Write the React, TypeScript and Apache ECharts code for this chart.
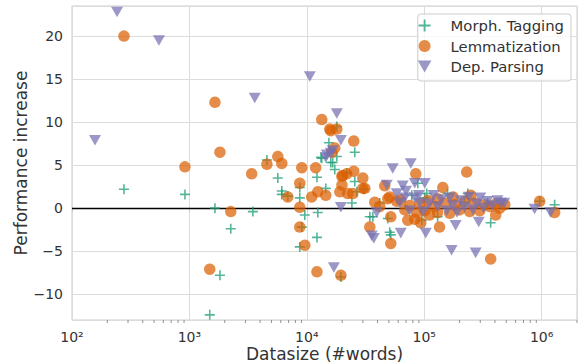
import React, { useEffect, useRef } from "react";
import * as echarts from "echarts";

// [datasize (#words), performance increase]
const morphTagging: [number, number][] = [
  [277, 2.2], [916, 1.6], [1650, 0.0], [2250, -2.4], [3470, -0.4], [1490, -12.4],
  [1820, -7.8], [6120, 2.0], [4570, 5.6], [5660, 3.5], [12200, 3.6], [15400, 7.6],
  [18000, 6.0], [25600, 3.1], [13400, 5.8], [16600, 5.3], [17300, 4.5], [8710, 2.4],
  [6890, 1.4], [8710, 1.2], [9610, -0.8], [12400, -0.5], [12200, -3.4], [8710, -4.5],
  [9060, -2.2], [14500, 2.3], [19500, -8.0], [24200, 0.6], [30600, 2.2], [36500, -1.0],
  [48900, -1.2], [51900, -3.1], [368000, -1.7], [1290000, 0.4], [101000, 1.2],
  [130000, -1.0], [235000, 1.7], [961000, 0.8], [18000, 9.5], [25600, 6.5], [16000, 5.3],
  [13200, 5.9], [21900, 4.1], [26700, 1.9], [34400, -1.0], [50800, -2.8], [41800, 0.6],
  [88100, 2.9], [95300, -1.4], [78300, 1.5], [105000, 1.7], [158000, 1.7], [221000, 0.7],
  [347000, 0.6], [6120, 1.6],
];

const lemmatization: [number, number][] = [
  [277, 20.0], [1650, 12.3], [916, 4.8], [1820, 6.5], [1490, -7.1], [2250, -0.4],
  [3390, 4.0], [4570, 5.1], [5660, 6.0], [6120, 5.2], [13400, 10.3], [15700, 9.2],
  [18000, 9.2], [16000, 9.0], [25100, 4.3], [17300, 7.0], [16300, 6.5], [9060, 4.7],
  [11900, 4.7], [8710, 2.9], [19900, 3.7], [21900, 4.0], [6890, 1.3], [11000, 1.3],
  [12400, 1.9], [14500, 1.5], [8710, 0.1], [8710, -2.2], [9610, -4.3], [12200, -7.4],
  [19900, 2.7], [19100, 1.9], [19500, -7.8], [24600, 1.7], [31200, 2.3], [37900, 0.7],
  [50800, 1.3], [51900, -1.0], [51900, -4.1], [68300, -0.2], [83000, -1.3], [93400, -1.7],
  [135000, -2.2], [144000, 2.4], [249000, 1.5], [368000, -5.9], [961000, 0.8],
  [1290000, -0.5], [25100, 7.8], [84700, 4.0], [230000, 4.2], [30000, 3.5], [406000, -0.8],
  [46100, 2.6], [72400, -1.4], [34400, -2.2], [20200, 3.8], [30000, 2.3], [22300, 1.7],
  [58300, 0.8], [63100, 1.0], [75300, 0.3], [86300, -0.5], [91600, 0.5], [101000, -0.3],
  [107000, 0.9], [111000, -0.8], [123000, 0.2], [130000, -0.5], [149000, 0.6],
  [165000, -0.6], [182000, 0.4], [200000, -0.2], [221000, 0.8], [244000, -0.4],
  [269000, 0.6], [297000, -0.3], [327000, 0.4], [361000, 0.2], [406000, 0.5],
  [439000, 0.0], [485000, 0.4], [48900, 1.1], [41800, 0.2], [176000, 1.3], [130000, 1.1],
];

const depParsing: [number, number][] = [
  [157, 7.9], [242, 22.8], [550, 19.5], [3600, 12.8], [10600, 15.3], [18000, 11.0],
  [19500, 7.9], [14800, 6.2], [16600, 6.7], [14500, 5.9], [16000, 6.4], [19500, 0.1],
  [17000, -6.9], [35700, -3.2], [37200, -3.5], [63100, -2.9], [53900, 4.6], [76800, 5.2],
  [47900, 2.7], [65600, 2.6], [83000, 2.9], [101000, 2.9], [103000, -2.9], [171000, -4.9],
  [274000, -5.2], [185000, -2.0], [291000, -1.6], [871000, -0.1], [1190000, -0.5],
  [39400, -0.5], [58300, 1.7], [68300, 1.2], [83000, 1.2], [91600, 0.6], [110000, 0.5],
  [120000, 1.5], [130000, 0.2], [140000, 1.0], [155000, -0.3], [165000, 1.2],
  [175000, 0.3], [190000, -0.5], [205000, 0.9], [220000, 0.1], [240000, 1.3],
  [260000, -0.2], [280000, 0.5], [300000, 1.2], [320000, 0.0], [345000, 0.8],
  [380000, 0.3], [420000, 0.9], [450000, 0.6], [480000, 0.6], [98000, -0.4],
  [90000, 1.5], [75000, -0.3], [70000, 2.0], [62000, 0.6],
];

const seriesNames = ["Morph. Tagging", "Lemmatization", "Dep. Parsing"];
const xMin = 100;
const xMax = 2000000;
const yMin = -13;
const yMax = 23.5;

const SUP: Record<string, string> = {
  "0": "⁰", "1": "¹", "2": "²", "3": "³", "4": "⁴", "5": "⁵", "6": "⁶", "7": "⁷", "8": "⁸", "9": "⁹",
};

const minorTicks: [number, number][] = [];
for (let k = 2; k <= 6; k++) {
  for (let m = 2; m <= 9; m++) {
    const v = m * Math.pow(10, k);
    if (v <= xMax) minorTicks.push([v, yMin]);
  }
}

const FONT = "DejaVu Sans";
const PLUS = "path://M42,0H58V42H100V58H58V100H42V58H0V42H42Z";
const DOWN_TRI = "path://M0,0L100,0L50,88Z";

export default function App() {
  const ref = useRef<HTMLDivElement>(null);
  useEffect(() => {
    if (!ref.current) return;
    const chart = echarts.init(ref.current, undefined, { renderer: "svg" });
    chart.setOption({
      animation: false,
      grid: {
        left: 72, right: 1, top: 6, bottom: 44,
        outerBoundsMode: "none",
        containLabel: false,
        show: true, borderColor: "#cccccc", borderWidth: 1, backgroundColor: "#fff",
      },
      legend: {
        data: seriesNames,
        orient: "vertical",
        right: 7,
        top: 14,
        itemWidth: 42,
        itemHeight: 12,
        itemGap: 5.5,
        padding: [4, 7, 7, 0],
        borderColor: "#cccccc",
        borderWidth: 1,
        borderRadius: 3,
        backgroundColor: "rgba(255,255,255,0.8)",
        symbolKeepAspect: true,
        textStyle: { fontFamily: FONT, fontSize: 14.8, color: "#333" },
      },
      xAxis: {
        type: "log",
        logBase: 10,
        min: xMin,
        max: xMax,
        name: "Datasize (#words)",
        nameLocation: "middle",
        nameMoveOverlap: false,
        nameGap: 25,
        nameTextStyle: { fontFamily: FONT, fontSize: 17, lineHeight: 18, color: "#333" },
        axisLine: { show: false },
        axisTick: { show: true, length: 4, lineStyle: { color: "#cccccc" } },
        axisLabel: {
          fontFamily: FONT, fontSize: 14, color: "#333", margin: 10,
          formatter: (v: number) => {
            const k = Math.round(Math.log10(v));
            if (Math.abs(v - Math.pow(10, k)) > 1e-6 * v) return "";
            return "10" + String(k).split("").map((c) => SUP[c]).join("");
          },
        },
        splitLine: { show: true, lineStyle: { color: "#dcdcdc", width: 1 } },
      },
      yAxis: {
        type: "value",
        min: yMin,
        max: yMax,
        splitNumber: 7,
        minInterval: 5,
        maxInterval: 5,
        name: "Performance increase",
        nameLocation: "middle",
        nameMoveOverlap: false,
        nameGap: 43,
        nameTextStyle: { fontFamily: FONT, fontSize: 17, color: "#333" },
        axisLine: { show: false },
        axisTick: { show: false },
        axisLabel: {
          fontFamily: FONT, fontSize: 14, color: "#333", margin: 9,
          showMinLabel: false, showMaxLabel: false,
          formatter: (v: number) => (v % 5 === 0 ? String(v).replace("-", "\u2212") : ""),
        },
        splitLine: { show: true, lineStyle: { color: "#dcdcdc", width: 1 } },
      },
      series: [
        {
          type: "custom",
          silent: true,
          clip: false,
          data: minorTicks,
          renderItem: (params: any, api: any) => {
            const p = api.coord([api.value(0), api.value(1)]);
            return {
              type: "line",
              shape: { x1: p[0], y1: p[1], x2: p[0], y2: p[1] + 3 },
              style: { stroke: "#777", lineWidth: 0.8 },
            };
          },
          z: 1,
        },
        {
          name: seriesNames[0],
          type: "scatter",
          data: morphTagging,
          symbol: PLUS,
          symbolSize: 10,
          itemStyle: { color: "#1b9e77", opacity: 0.75 },
          markLine: {
            silent: true,
            symbol: "none",
            label: { show: false },
            lineStyle: { color: "#000", width: 1.3, type: "solid" },
            data: [{ yAxis: 0 }],
            z: 1,
          },
        },
        {
          name: seriesNames[1],
          type: "scatter",
          data: lemmatization,
          symbol: "circle",
          symbolSize: 11.5,
          itemStyle: { color: "#d95f02", opacity: 0.72 },
        },
        {
          name: seriesNames[2],
          type: "scatter",
          data: depParsing,
          symbol: DOWN_TRI,
          symbolKeepAspect: true,
          symbolSize: 12,
          itemStyle: { color: "#7570b3", opacity: 0.72 },
        },
      ],
    });
    return () => chart.dispose();
  }, []);
  return <div ref={ref} style={{ width: 578, height: 364, position: "absolute", left: 0, top: 0 }} />;
}
